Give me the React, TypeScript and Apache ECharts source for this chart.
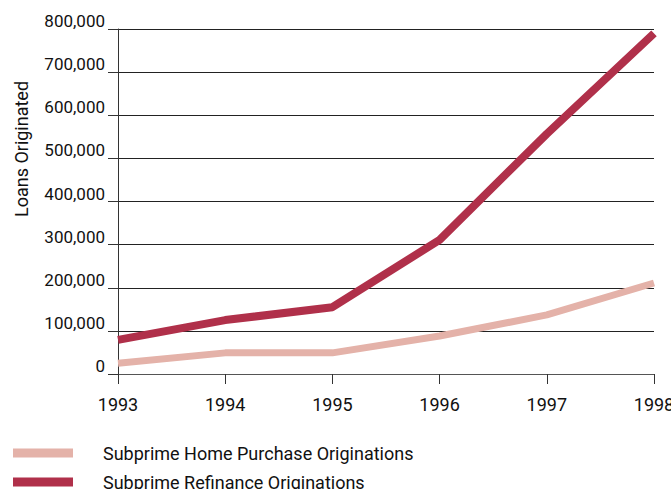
import React, { useEffect, useRef } from "react";
import * as echarts from "echarts";

const years = ["1993", "1994", "1995", "1996", "1997", "1998"];
const homePurchase = [25000, 49000, 49000, 88000, 137000, 211000];
const refinance = [79000, 125000, 155000, 311000, 557000, 790000];
const yTicks = [0, 100000, 200000, 300000, 400000, 500000, 600000, 700000, 800000];
const seriesNames = ["Subprime Home Purchase Originations", "Subprime Refinance Originations"];

const FONT = "Roboto, 'Liberation Sans', sans-serif";

export default function App() {
  const ref = useRef<HTMLDivElement>(null);
  useEffect(() => {
    if (!ref.current) return;
    const chart = echarts.init(ref.current, null, { renderer: "svg" });
    const legendBase = {
      orient: "horizontal",
      left: 13,
      padding: 0,
      itemWidth: 60,
      itemHeight: 9,
      icon: "rect",
      textStyle: {
        fontFamily: FONT,
        fontSize: 18,
        color: "#111",
        lineHeight: 20,
        padding: [0, 0, 0, 25],
      },
    };
    chart.setOption({
      animation: false,
      backgroundColor: "#ffffff",
      grid: {
        left: 118,
        right: 17,
        top: 29,
        bottom: 115,
        containLabel: false,
        outerBoundsMode: "none",
      },
      xAxis: {
        type: "category",
        data: years,
        boundaryGap: false,
        axisLine: { show: true, lineStyle: { color: "#555", width: 1 } },
        axisTick: { show: true, length: 10, lineStyle: { color: "#333" } },
        axisLabel: { color: "#111", fontFamily: FONT, fontSize: 18, margin: 21 },
        splitLine: { show: false },
      },
      yAxis: {
        type: "value",
        min: yTicks[0],
        max: yTicks[yTicks.length - 1],
        interval: 100000,
        axisLine: { show: true, lineStyle: { color: "#333", width: 1 } },
        axisTick: { show: true, length: 10, lineStyle: { color: "#333" } },
        axisLabel: {
          color: "#111",
          fontFamily: FONT,
          fontSize: 17,
          margin: 13,
          verticalAlign: "bottom",
          lineHeight: 16,
          formatter: (v: number) => v.toLocaleString("en-US"),
        },
        splitLine: { show: true, lineStyle: { color: "#222", width: 1 } },
      },
      legend: [
        { ...legendBase, top: 443, data: [seriesNames[0]] },
        { ...legendBase, top: 472, data: [seriesNames[1]] },
      ],
      graphic: [
        {
          type: "text",
          x: 21,
          y: 149,
          rotation: Math.PI / 2,
          style: {
            text: "Loans Originated",
            font: `18px ${FONT}`,
            fill: "#111",
            align: "center",
            verticalAlign: "middle",
          },
        },
      ],
      series: [
        {
          name: seriesNames[0],
          type: "line",
          data: homePurchase,
          symbol: "none",
          color: "#E4B2A9",
          lineStyle: { width: 7, color: "#E4B2A9" },
        },
        {
          name: seriesNames[1],
          type: "line",
          data: refinance,
          symbol: "none",
          color: "#B0304A",
          lineStyle: { width: 8, color: "#B0304A" },
        },
      ],
    });
    return () => chart.dispose();
  }, []);
  return <div ref={ref} style={{ width: 671, height: 489, position: "absolute", left: 0, top: 0 }} />;
}
